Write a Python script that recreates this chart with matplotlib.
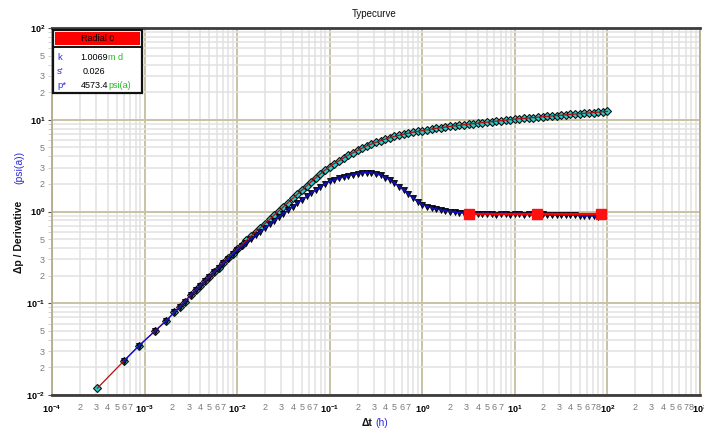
import matplotlib
matplotlib.use('Agg')
import matplotlib.pyplot as plt
from matplotlib.patches import Rectangle
from matplotlib.lines import Line2D

plt.rcParams['font.family'] = ['Liberation Sans', 'DejaVu Sans']
plt.rcParams['mathtext.fontset'] = 'custom'
plt.rcParams['mathtext.rm'] = 'Liberation Sans'
plt.rcParams['mathtext.bf'] = 'Liberation Sans:bold'

# ---------------- data ----------------
p_time = [3.1e-4, 6.0e-4, 8.7e-4, 1.3e-3, 1.7e-3, 2.1e-3, 2.4e-3, 2.7e-3,
          3.16e-3, 3.55e-3, 3.98e-3, 4.47e-3, 5.01e-3, 5.62e-3, 6.31e-3, 7.08e-3, 7.94e-3, 8.91e-3,
          0.0100, 0.0112, 0.0126, 0.0141, 0.0158, 0.0178, 0.0200, 0.0224, 0.0251, 0.0282,
          0.0316, 0.0355, 0.0398, 0.0447, 0.0501, 0.0562, 0.0631, 0.0708, 0.0794, 0.0891,
          0.100, 0.112, 0.126, 0.141, 0.158, 0.178, 0.200, 0.224, 0.251, 0.282,
          0.316, 0.355, 0.398, 0.447, 0.501, 0.562, 0.631, 0.708, 0.794, 0.891,
          1.00, 1.12, 1.26, 1.41, 1.58, 1.78, 2.00, 2.24, 2.51, 2.82,
          3.16, 3.55, 3.98, 4.47, 5.01, 5.62, 6.31, 7.08, 7.94, 8.91,
          10.0, 11.2, 12.6, 14.1, 15.8, 17.8, 20.0, 22.4, 25.1, 28.2,
          31.6, 35.5, 39.8, 44.7, 50.1, 56.2, 63.1, 70.8, 79.4, 89.1,
          100.0]
p_value = [0.0119, 0.0236, 0.0344, 0.050, 0.064, 0.080, 0.092, 0.104,
           0.123, 0.138, 0.155, 0.174, 0.195, 0.219, 0.245, 0.275, 0.310, 0.347,
           0.390, 0.434, 0.483, 0.537, 0.597, 0.664, 0.738, 0.820, 0.912, 1.013,
           1.125, 1.25, 1.39, 1.54, 1.71, 1.90, 2.11, 2.33, 2.57, 2.83,
           3.09, 3.33, 3.57, 3.83, 4.09, 4.36, 4.63, 4.91, 5.18, 5.43,
           5.68, 5.92, 6.15, 6.37, 6.58, 6.78, 6.97, 7.14, 7.31, 7.46,
           7.62, 7.76, 7.91, 8.05, 8.18, 8.32, 8.45, 8.59, 8.71, 8.83,
           8.95, 9.07, 9.18, 9.30, 9.42, 9.54, 9.66, 9.78, 9.90, 10.03,
           10.15, 10.26, 10.35, 10.46, 10.57, 10.67, 10.77, 10.89, 10.99, 11.09,
           11.20, 11.30, 11.43, 11.53, 11.64, 11.75, 11.86, 11.99, 12.11, 12.22,
           12.33]

d_time = [6.0e-4, 8.7e-4, 1.3e-3, 1.7e-3, 2.1e-3, 2.4e-3, 2.7e-3,
          3.16e-3, 3.55e-3, 3.98e-3, 4.47e-3, 5.01e-3, 5.62e-3, 6.31e-3, 7.08e-3, 7.94e-3, 8.91e-3,
          0.0100, 0.0112, 0.0126, 0.0141, 0.0158, 0.0178, 0.0200, 0.0224, 0.0251, 0.0282,
          0.0316, 0.0355, 0.0398, 0.0447, 0.0501, 0.0562, 0.0631, 0.0708, 0.0794, 0.0891,
          0.100, 0.112, 0.126, 0.141, 0.158, 0.178, 0.200, 0.224, 0.251, 0.282,
          0.316, 0.355, 0.398, 0.447, 0.501, 0.562, 0.631, 0.708, 0.794, 0.891,
          1.00, 1.12, 1.26, 1.41, 1.58, 1.78, 2.00, 2.24, 2.51, 2.82,
          3.16, 3.55, 3.98, 4.47, 5.01, 5.62, 6.31, 7.08, 7.94, 8.91,
          10.0, 11.2, 12.6, 14.1, 15.8, 17.8, 20.0, 22.4, 25.1, 28.2,
          31.6, 35.5, 39.8, 44.7, 50.1, 56.2, 63.1, 70.8, 79.4]
d_value = [0.0236, 0.0344, 0.050, 0.064, 0.080, 0.092, 0.104,
           0.123, 0.138, 0.155, 0.174, 0.195, 0.219, 0.245, 0.273, 0.305, 0.340,
           0.380, 0.417, 0.457, 0.501, 0.550, 0.603, 0.661, 0.724, 0.794, 0.871,
           0.950, 1.037, 1.13, 1.236, 1.35, 1.46, 1.585, 1.71, 1.85, 1.99,
           2.13, 2.21, 2.29, 2.37, 2.44, 2.51, 2.57, 2.64, 2.66, 2.63,
           2.57, 2.47, 2.34, 2.20, 2.05, 1.87, 1.70, 1.54, 1.40, 1.28,
           1.19, 1.13, 1.09, 1.06, 1.04, 1.02, 1.00, 0.98, 0.97, 0.96,
           0.95, 0.95, 0.94, 0.93, 0.94, 0.93, 0.92, 0.93, 0.93, 0.92,
           0.93, 0.93, 0.92, 0.93, 0.92, 0.92, 0.93, 0.92, 0.91, 0.92,
           0.92, 0.91, 0.92, 0.91, 0.90, 0.89, 0.90, 0.89, 0.88]

radial_time = [3.2, 17.5, 86.0]
radial_value = [0.94, 0.94, 0.94]

x_major = [1e-4, 1e-3, 1e-2, 1e-1, 1e0, 1e1, 1e2, 1e3]
x_major_labels = [r'$\mathbf{10^{-4}}$', r'$\mathbf{10^{-3}}$', r'$\mathbf{10^{-2}}$', r'$\mathbf{10^{-1}}$',
                  r'$\mathbf{10^{0}}$', r'$\mathbf{10^{1}}$', r'$\mathbf{10^{2}}$', r'$\mathbf{10^{3}}$']
y_major = [1e-2, 1e-1, 1e0, 1e1, 1e2]
y_major_labels = [r'$\mathbf{10^{-2}}$', r'$\mathbf{10^{-1}}$', r'$\mathbf{10^{0}}$',
                  r'$\mathbf{10^{1}}$', r'$\mathbf{10^{2}}$']
x_minor_shown = [[2, 3, 4, 5, 6, 7], [2, 3, 4, 5, 6, 7], [2, 3, 4, 5, 6, 7], [2, 3, 4, 5, 6, 7],
                 [2, 3, 4, 5, 6, 7], [2, 3, 4, 5, 6, 7, 8], [2, 3, 4, 5, 6, 7, 8]]
y_minor_shown = [2, 3, 5]

legend_title = 'Radial 0'
legend_rows = [('k', '1.0069', 'm d'), ("s'", '0.026', ''), ('p*', '4573.4', 'psi(a)')]

# ---------------- figure ----------------
W, H = 704, 437
fig = plt.figure(figsize=(W / 100, H / 100), dpi=100)
L, R, T, B = 52, 700, 28, 395
ax = fig.add_axes([L / W, 1 - B / H, (R - L) / W, (B - T) / H])
ax.set_xscale('log')
ax.set_yscale('log')
ax.set_xlim(1e-4, 1e3)
ax.set_ylim(1e-2, 1e2)

def fx(x):
    return x / W

def fy(y):
    return 1 - y / H

# ticks
ax.set_xticks(x_major, x_major_labels)
xm_pos, xm_lab = [], []
for i, dec in enumerate(x_major[:-1]):
    for m in range(2, 10):
        xm_pos.append(dec * m)
        xm_lab.append(str(m) if m in x_minor_shown[i] else '')
ax.set_xticks(xm_pos, xm_lab, minor=True)

ax.set_yticks(y_major, y_major_labels)
ym_pos, ym_lab = [], []
for dec in y_major[:-1]:
    for m in range(2, 10):
        ym_pos.append(dec * m)
        ym_lab.append(str(m) if m in y_minor_shown else '')
ax.set_yticks(ym_pos, ym_lab, minor=True)

ax.tick_params(axis='x', which='both', length=0, pad=6, labelsize=6.5)
ax.tick_params(axis='x', which='minor', labelcolor='#7a7a7a')
ax.tick_params(axis='y', which='major', length=3, color='#505050', pad=2, labelsize=6.5)
ax.tick_params(axis='y', which='minor', length=3, color='#c8c8c8', pad=2, labelsize=6.5,
               labelcolor='#7a7a7a')

ax.grid(which='minor', color='#e1e1e1', lw=1.1)
ax.grid(which='major', color='#c8c3a4', lw=1.4)
ax.set_axisbelow(True)

for s in ('top', 'bottom'):
    ax.spines[s].set_color('#3c3c3c')
    ax.spines[s].set_linewidth(2.0)
for s in ('left', 'right'):
    ax.spines[s].set_color('#b5ad8c')
    ax.spines[s].set_linewidth(1.3)

# data
ax.plot(p_time, p_value, ls='none', marker='D', ms=4.0, mfc='#22d0d0', mec='#101010', mew=0.8, zorder=3)
ax.plot(d_time, d_value, ls='none', marker='v', ms=4.4, mfc='#101060', mec='#000000', mew=0.6, zorder=4)
ax.plot(p_time, p_value, color='#b01010', lw=0.9, zorder=5)
ax.plot(d_time, d_value, color='#1010d0', lw=0.9, zorder=5)
ax.plot(radial_time, radial_value, color='#ff0000', lw=1.6, marker='s', ms=6.5,
        mfc='#ff1010', mec='#ff1010', zorder=6)

# legend box
fig.patches.append(Rectangle((fx(53), fy(93)), fx(142) - fx(53), fy(30) - fy(93),
                             transform=fig.transFigure, facecolor='white', edgecolor='#111111',
                             lw=1.6, zorder=10))
fig.patches.append(Rectangle((fx(55), fy(45)), fx(140) - fx(55), fy(32) - fy(45),
                             transform=fig.transFigure, facecolor='#ff0000', edgecolor='none', zorder=11))
fig.lines.append(Line2D([fx(53), fx(142)], [fy(46.5), fy(46.5)], transform=fig.transFigure,
                        color='#111111', lw=1.4, zorder=11))
fig.text(fx(97.5), fy(38.5), legend_title, ha='center', va='center', fontsize=6.5, color='black', zorder=12)
row_y = [57, 71, 85]
for (lab, val, unit), yy in zip(legend_rows, row_y):
    fig.text(fx(57), fy(yy), lab, ha='left', va='center', fontsize=6.8, color='#2a2ae0', zorder=12)
    if unit:
        fig.text(fx(108), fy(yy), val, ha='right', va='center', fontsize=6.5, color='black', zorder=12)
        fig.text(fx(108.5), fy(yy), unit, ha='left', va='center', fontsize=6.5, color='#22bb22', zorder=12)
    else:
        fig.text(fx(105), fy(yy), val, ha='right', va='center', fontsize=6.5, color='black', zorder=12)

# titles / labels
fig.text(fx(374), fy(14), 'Typecurve', ha='center', va='center', fontsize=7, color='#111111')
fig.text(fx(19), fy(237), 'Δp / Derivative', rotation=90, ha='center', va='center',
         fontsize=7.5, fontweight='bold', color='#111111')
fig.text(fx(19), fy(167), '(psi(a))', rotation=90, ha='center', va='center',
         fontsize=7.5, color='#2a2ae0')
fig.text(fx(372), fy(423), 'Δt', ha='right', va='center', fontsize=7.5, fontweight='bold', color='#111111')
fig.text(fx(375), fy(423), '(h)', ha='left', va='center', fontsize=7.5, color='#2a2ae0')

fig.savefig('out.png', dpi=100)
